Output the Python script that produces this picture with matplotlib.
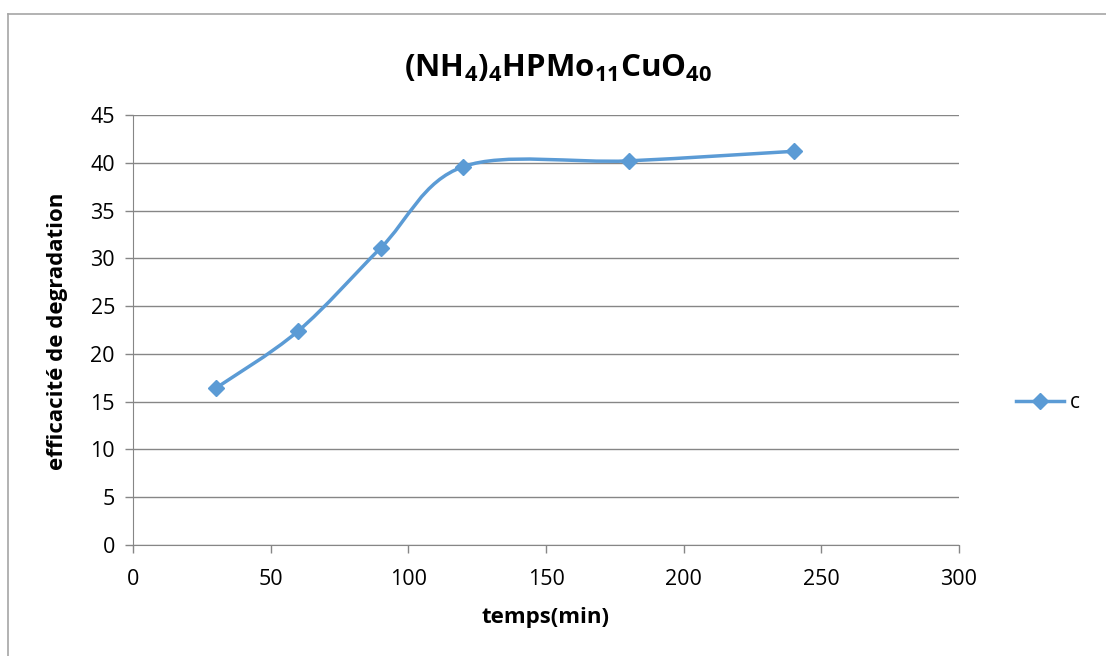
import matplotlib
matplotlib.use("Agg")
import matplotlib.pyplot as plt
import numpy as np
from matplotlib.path import Path
from matplotlib.patches import PathPatch
from matplotlib.lines import Line2D

plt.rcParams['font.family'] = ['Open Sans', 'DejaVu Sans']
plt.rcParams['mathtext.fontset'] = 'custom'
plt.rcParams['mathtext.rm'] = 'Open Sans'
plt.rcParams['mathtext.bf'] = 'Open Sans:bold'

# data
temps = [30, 60, 90, 120, 180, 240]
efficacite = [16.4, 22.4, 31.1, 39.6, 40.2, 41.2]
series_name = "c"

BLUE = "#5B9BD5"
GRID = "#868686"

fig = plt.figure(figsize=(11.06, 6.56), dpi=100)
ax = fig.add_axes([133 / 1106, 1 - 545 / 656, (959 - 133) / 1106, (545 - 115) / 656])

# Excel-style smoothed line: cubic Bezier through the points
x = np.array(temps, float)
y = np.array(efficacite, float)
verts = [(x[0], y[0])]
codes = [Path.MOVETO]
n = len(x)
for i in range(n - 1):
    p0 = np.array([x[max(i - 1, 0)], y[max(i - 1, 0)]])
    p1 = np.array([x[i], y[i]])
    p2 = np.array([x[i + 1], y[i + 1]])
    p3 = np.array([x[min(i + 2, n - 1)], y[min(i + 2, n - 1)]])
    c1 = p1 + (p2 - p0) / 6
    c2 = p2 - (p3 - p1) / 6
    verts += [tuple(c1), tuple(c2), tuple(p2)]
    codes += [Path.CURVE4] * 3
ax.add_patch(PathPatch(Path(verts, codes), facecolor="none", edgecolor=BLUE, lw=2.5, zorder=3))
ax.plot(temps, efficacite, linestyle="none", marker="D", markersize=8, color=BLUE, zorder=4)

ax.set_xlim(0, 300)
ax.set_ylim(0, 45)
ax.set_xticks(range(0, 301, 50))
ax.set_yticks(range(0, 46, 5))
ax.yaxis.grid(True, color=GRID, lw=1)
ax.set_axisbelow(True)
for s in ("top", "right"):
    ax.spines[s].set_visible(False)
for s in ("left", "bottom"):
    ax.spines[s].set_color(GRID)
ax.tick_params(axis="both", colors=GRID, labelcolor="black", labelsize=15.5, length=6, width=1)
ax.tick_params(axis="y", pad=7)
ax.tick_params(axis="x", pad=11)

fig.text(558 / 1106, 1 - 68 / 656, r"$\mathbf{(NH_4)_4HPMo_{11}CuO_{40}}$",
         ha="center", va="center", fontsize=22.5)
fig.text(546 / 1106, 1 - 617 / 656, "temps(min)", ha="center", va="center",
         fontsize=16, fontweight="bold")
fig.text(57 / 1106, 1 - 331 / 656, "efficacité de degradation", ha="center", va="center",
         fontsize=16, fontweight="bold", rotation=90)

# legend
leg = [Line2D([0], [0], color=BLUE, lw=2.5, marker="D", markersize=8)]
fig.legend(leg, [series_name], loc="center left", bbox_to_anchor=(997 / 1106, 1 - 403 / 656),
           frameon=False, fontsize=15, handlelength=2.3, handletextpad=0.3)

# outer chart border (top and left visible)
fig.add_artist(Line2D([8 / 1106, 1], [1 - 14 / 656] * 2, color="#A6A6A6", lw=1.2, transform=fig.transFigure))
fig.add_artist(Line2D([8 / 1106] * 2, [0, 1 - 14 / 656], color="#A6A6A6", lw=1.2, transform=fig.transFigure))

fig.savefig("out.png", dpi=100)
